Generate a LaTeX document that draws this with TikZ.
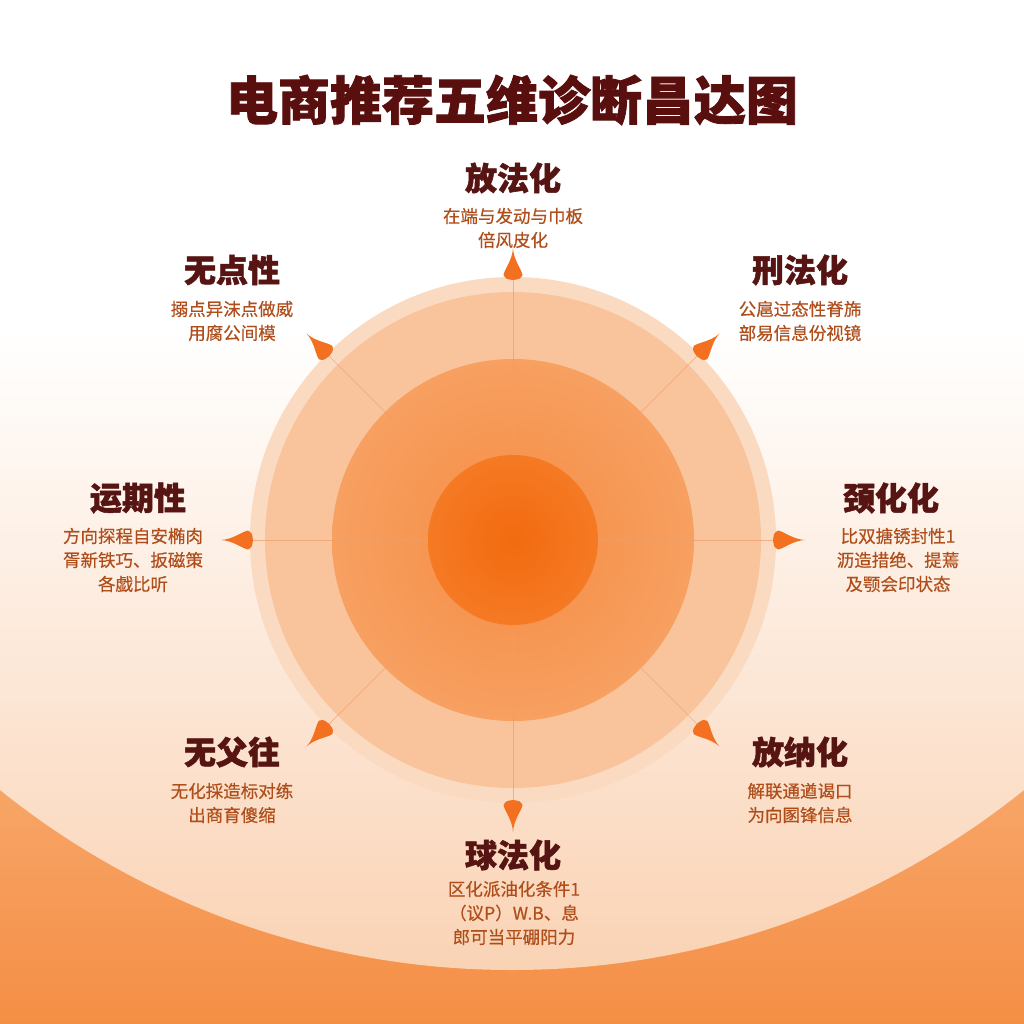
\documentclass[tikz,border=0pt]{standalone}
\usepackage{fontspec}
\newfontfamily\cjk{Noto Sans CJK SC}
\newfontfamily\cjkmed[FakeBold=0.4]{Noto Sans CJK SC}
\newfontfamily\cjkheavy[BoldFeatures={FakeBold=1.6}]{Noto Sans CJK SC}
\usetikzlibrary{calc}
\definecolor{bgpeach}{HTML}{FAD2B3}
\definecolor{bgmid}{HTML}{FDEDE2}
\definecolor{orA}{HTML}{F8AA6E}
\definecolor{orB}{HTML}{F48E45}
\definecolor{ringA}{HTML}{FBDAC2}
\definecolor{ringB}{HTML}{F9C49B}
\definecolor{ringC}{HTML}{F7A061}
\definecolor{ringCin}{HTML}{F58C43}
\definecolor{core}{HTML}{F57A24}
\definecolor{coredark}{HTML}{F26A0F}
\definecolor{spikecol}{HTML}{F2701F}
\definecolor{spokecol}{HTML}{EE9E6C}
\definecolor{titlecol}{HTML}{5A0F0F}
\definecolor{headcol}{HTML}{561513}
\definecolor{bodycol}{HTML}{B04E1B}
\tikzset{
  titlestyle/.style={inner sep=0pt, text=titlecol, font=\cjkheavy\bfseries\fontsize{52}{56}\selectfont},
  headstyle/.style={inner sep=0pt, text=headcol, font=\cjkheavy\bfseries\fontsize{32}{36}\selectfont},
  bodystyle/.style={inner sep=0pt, text=bodycol, align=center, font=\cjkmed\fontsize{17.5}{24}\selectfont},
  spokeline/.style={draw=spokecol, line width=0.7pt, opacity=0.7},
  markspike/.pic={
    \fill[spikecol] (32,0) .. controls (20,0.6) and (12,8) .. (5,9.5)
      .. controls (1,7) .. (0,0) .. controls (1,-7) .. (5,-9.5)
      .. controls (12,-8) and (20,-0.6) .. (32,0) -- cycle;
  }
}
\begin{document}
\begin{tikzpicture}[x=1pt,y=-1pt]
\useasboundingbox (0,0) rectangle (1024,1024);
% background
\fill[white] (0,0) rectangle (1024,1024);
\shade[top color=orA, bottom color=orB] (0,740) rectangle (1024,1024);
\begin{scope}
  \clip (512,152) circle[radius=818pt];
  \fill[white] (0,0) rectangle (1024,330);
  \shade[top color=white, middle color=bgmid, bottom color=bgpeach] (0,330) rectangle (1024,980);
\end{scope}
% rings
\coordinate (c) at (513,540);
\fill[ringA] (c) circle[radius=263pt];
\fill[ringB] (c) circle[radius=248pt];
\shade[inner color=ringCin, outer color=ringC] (c) circle[radius=181pt];
% marker positions
\foreach \a/\n in {90/1,135/2,45/3,180/4,0/5,225/6,-45/7,270/8}{
  \coordinate (m\n) at ($(c)+({260*cos(\a)},{-260*sin(\a)})$);
}
\foreach \n in {1,...,8}{ \draw[spokeline] (c) -- (m\n); }
\shade[inner color=coredark, outer color=core] (c) circle[radius=85pt];
\pic[rotate=90] at (m1) {markspike};
\pic[rotate=135] at (m2) {markspike};
\pic[rotate=45] at (m3) {markspike};
\pic[rotate=180] at (m4) {markspike};
\pic[rotate=0] at (m5) {markspike};
\pic[rotate=225] at (m6) {markspike};
\pic[rotate=-45] at (m7) {markspike};
\pic[rotate=270] at (m8) {markspike};
% title
\node[titlestyle] (title) at (512,100) {电商推荐五维诊断昌达图};
% headings
\node[headstyle] (h1) at (513,178) {放法化};
\node[headstyle] (h2) at (232,270) {无点性};
\node[headstyle] (h3) at (800,270) {刑法化};
\node[headstyle] (h4) at (138,498) {运期性};
\node[headstyle] (h5) at (891,498) {颈化化};
\node[headstyle] (h6) at (232,752) {无父往};
\node[headstyle] (h7) at (800,752) {放纳化};
\node[headstyle] (h8) at (513,855) {球法化};
% bodies
\node[bodystyle] (b1) at (513,228) {在端与发动与巾板\\倍风皮化};
\node[bodystyle] (b2) at (232,321) {搦点异沫点做威\\用腐公间模};
\node[bodystyle] (b3) at (800,321) {公扈过态性脊旆\\部易信息份视镜};
\node[bodystyle] (b4) at (133,560) {方向探程自安椭肉\\胥新铁巧、扳磁策\\各戯比听};
\node[bodystyle] (b5) at (898,560) {比双搪锈封性1\\沥造措绝、提蔫\\及颚会印状态};
\node[bodystyle] (b6) at (232,803) {无化採造标对练\\出商育傻缩};
\node[bodystyle] (b7) at (800,803) {解联通遒谒口\\为向圂锋信息};
\node[bodystyle] (b8) at (514,913) {区化派油化条件1\\（议P）W.B、息\\郎可当平硼阳力};
\end{tikzpicture}
\end{document}
